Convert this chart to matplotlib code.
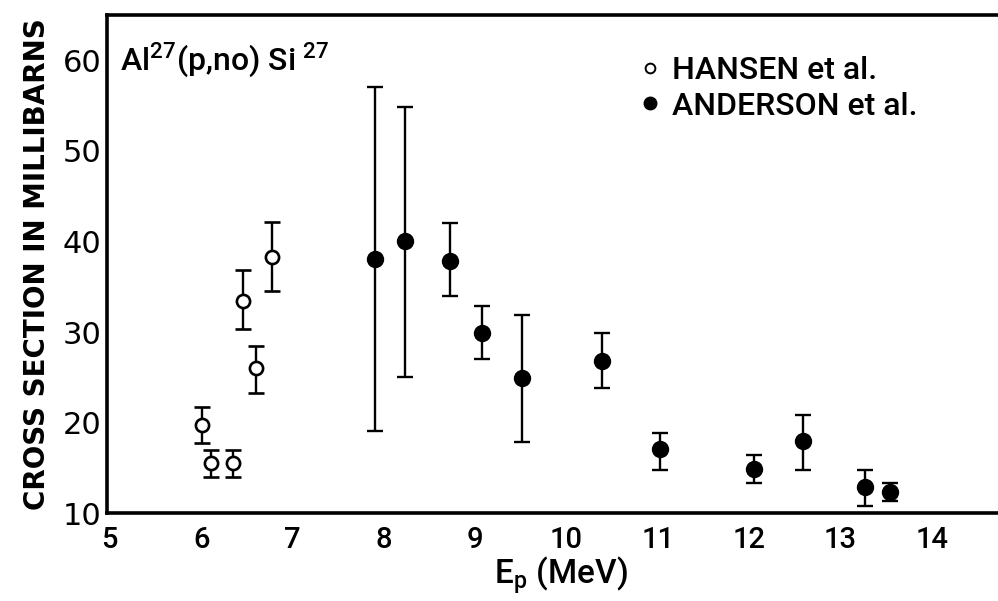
import matplotlib
matplotlib.use('Agg')
import matplotlib.pyplot as plt
from matplotlib.lines import Line2D
import numpy as np

# HANSEN et al. (open circles)
hansen_e = [6.01, 6.11, 6.35, 6.46, 6.60, 6.78]
hansen_xs = [19.7, 15.6, 15.6, 33.4, 26.0, 38.3]
hansen_lo = [17.8, 14.0, 14.0, 30.3, 23.3, 34.5]
hansen_hi = [21.7, 17.0, 17.0, 36.8, 28.5, 42.2]

# ANDERSON et al. (filled circles)
anderson_e = [7.90, 8.23, 8.73, 9.07, 9.51, 10.39, 11.02, 12.05, 12.59, 13.27, 13.54]
anderson_xs = [38.1, 40.0, 37.9, 29.9, 24.9, 26.8, 17.1, 14.9, 18.0, 12.9, 12.3]
anderson_lo = [19.1, 25.0, 34.0, 27.0, 17.9, 23.8, 14.8, 13.3, 14.8, 10.8, 11.4]
anderson_hi = [57.0, 54.9, 42.0, 32.9, 31.9, 29.9, 18.9, 16.4, 20.9, 14.8, 13.3]

xticks = [5, 6, 7, 8, 9, 10, 11, 12, 13, 14]
yticks = [10, 20, 30, 40, 50, 60]

narrow = ['Roboto', 'DejaVu Sans']
plt.rcParams['mathtext.fontset'] = 'custom'
plt.rcParams['mathtext.rm'] = 'Roboto'

fig = plt.figure(figsize=(9.98, 6.01), dpi=100)
ax = fig.add_axes([0.107, 0.146, 0.91, 0.829])


def errs(v, lo, hi):
    v = np.array(v)
    return [v - np.array(lo), np.array(hi) - v]


ax.errorbar(hansen_e, hansen_xs, yerr=errs(hansen_xs, hansen_lo, hansen_hi),
            fmt='o', mfc='white', mec='black', mew=1.9, ms=9.5, color='black',
            ecolor='black', elinewidth=1.7, capsize=6, capthick=1.7, zorder=3)
ax.errorbar(anderson_e, anderson_xs, yerr=errs(anderson_xs, anderson_lo, anderson_hi),
            fmt='o', mfc='black', mec='black', ms=11.5, color='black',
            ecolor='black', elinewidth=1.7, capsize=6, capthick=1.7, zorder=3)

ax.set_xlim(4.967, 14.91)
ax.set_ylim(10, 65)
ax.set_xticks(xticks)
ax.set_yticks(yticks)
ax.tick_params(length=0)
ax.tick_params(axis='x', pad=9)
ax.tick_params(axis='y', pad=4)
for lab in ax.get_xticklabels():
    lab.set_family(narrow)
    lab.set_fontsize(21)
    lab.set_weight('medium')
for lab in ax.get_yticklabels():
    lab.set_family('DejaVu Sans')
    lab.set_fontsize(22)

for s in ['left', 'top', 'bottom']:
    ax.spines[s].set_linewidth(2.6)
ax.spines['right'].set_visible(False)

ax.set_xlabel(r'E$_\mathregular{p}$ (MeV)', family=narrow, fontsize=24,
              weight='medium', labelpad=0)
ax.set_ylabel('CROSS SECTION IN MILLIBARNS', family='DejaVu Sans', fontsize=20,
              weight='bold', labelpad=8)

ax.text(0.014, 0.91, r'Al$^\mathregular{27}$(p,no) Si$^\mathregular{\ 27}$',
        transform=ax.transAxes, family=narrow, fontsize=23, weight='medium',
        va='center', ha='left')

handles = [Line2D([], [], ls='none', marker='o', mfc='white', mec='black', mew=1.4, ms=7),
           Line2D([], [], ls='none', marker='o', mfc='black', mec='black', ms=9)]
leg = ax.legend(handles, ['HANSEN et al.', 'ANDERSON et al.'], loc='upper left',
                bbox_to_anchor=(0.556, 0.975), frameon=False, handlelength=0.6,
                handletextpad=0.4, labelspacing=0.2,
                prop={'family': narrow, 'size': 23, 'weight': 'medium'})

fig.savefig('out.png', dpi=100)
